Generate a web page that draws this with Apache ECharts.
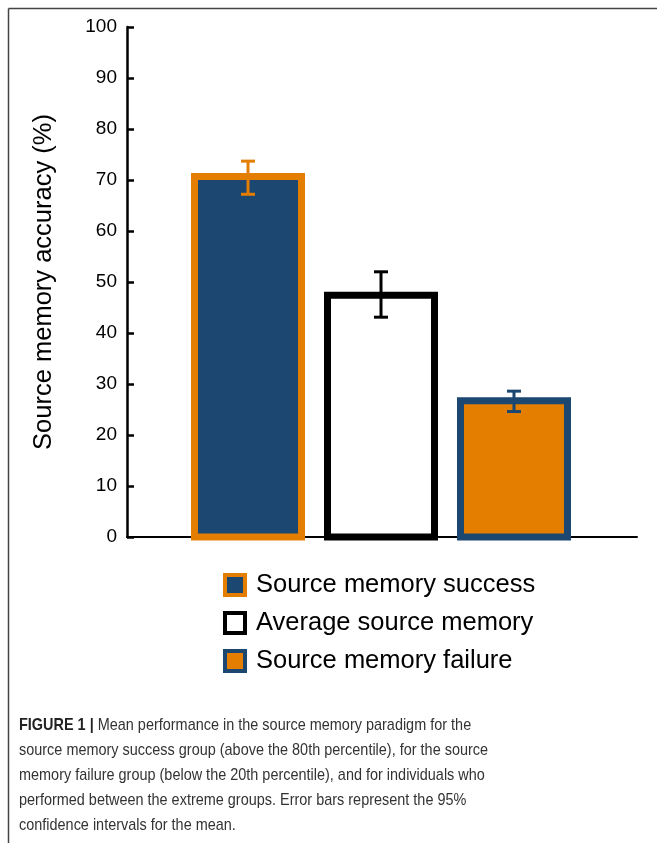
<!DOCTYPE html>
<html>
<head>
<meta charset="utf-8">
<script src="https://cdn.jsdelivr.net/npm/echarts@6/dist/echarts.min.js"></script>
<style>
html,body{margin:0;padding:0;background:#fff;}
#chart{width:657px;height:843px;}
</style>
</head>
<body>
<div id="chart"></div>
<script>
// ---- data ----
var groups = ['Source memory success', 'Average source memory', 'Source memory failure'];
var positions = [1, 2, 3];
var means = [70.7, 47.4, 26.7];
var ciLow = [67.2, 43.1, 24.6];
var ciHigh = [73.7, 52.0, 28.6];
var yTicks = [0, 10, 20, 30, 40, 50, 60, 70, 80, 90, 100];

// ---- styles ----
var NAVY = '#1c4770';
var ORANGE = '#e37e00';
var fills = [NAVY, '#ffffff', ORANGE];
var borders = [ORANGE, '#000000', NAVY];
var errColors = [ORANGE, '#000000', NAVY];
var BAR_HALF = 53.5;

var chart = echarts.init(document.getElementById('chart'));

var series = groups.map(function (g, i) {
  return {
    name: g,
    type: 'custom',
    z: 3,
    itemStyle: { color: fills[i], borderColor: borders[i] },
    data: [[positions[i], means[i]]],
    renderItem: function (params, api) {
      var top = api.coord([api.value(0), api.value(1)]);
      var base = api.coord([api.value(0), 0]);
      return {
        type: 'rect',
        shape: { x: top[0] - BAR_HALF, y: top[1], width: BAR_HALF * 2, height: base[1] - top[1] },
        style: { fill: fills[i], stroke: borders[i], lineWidth: 7 }
      };
    }
  };
});

series.push({
  type: 'custom',
  name: 'ci',
  z: 5,
  data: positions.map(function (p, i) { return [p, ciLow[i], ciHigh[i], i]; }),
  renderItem: function (params, api) {
    var x = api.value(0);
    var lo = api.coord([x, api.value(1)]);
    var hi = api.coord([x, api.value(2)]);
    var c = errColors[api.value(3)];
    var hw = 7;
    var st = { stroke: c, lineWidth: 3 };
    return {
      type: 'group',
      children: [
        { type: 'line', shape: { x1: lo[0], y1: lo[1], x2: hi[0], y2: hi[1] }, style: st },
        { type: 'line', shape: { x1: lo[0] - hw, y1: lo[1], x2: lo[0] + hw, y2: lo[1] }, style: st },
        { type: 'line', shape: { x1: hi[0] - hw, y1: hi[1], x2: hi[0] + hw, y2: hi[1] }, style: st }
      ]
    };
  }
});

var option = {
  animation: false,
  backgroundColor: '#ffffff',
  textStyle: { fontFamily: 'Liberation Sans, Arial, sans-serif' },
  grid: { left: 127, right: 20, top: 27, bottom: 306 },
  xAxis: {
    type: 'value',
    min: 0.09,
    max: 3.925,
    axisLine: { show: true, onZero: true, lineStyle: { color: '#000', width: 2 } },
    axisTick: { show: false },
    axisLabel: { show: false },
    splitLine: { show: false }
  },
  yAxis: {
    type: 'value',
    min: yTicks[0],
    max: yTicks[yTicks.length - 1],
    interval: 10,
    name: 'Source memory accuracy (%)',
    nameLocation: 'middle',
    nameGap: 70,
    nameTextStyle: { fontSize: 25.5, color: '#000', fontFamily: 'Liberation Sans, Arial, sans-serif' },
    axisLine: { show: true, lineStyle: { color: '#000', width: 2.5 } },
    axisTick: { show: true, inside: true, length: 7, lineStyle: { color: '#000', width: 2.5 } },
    axisLabel: { fontSize: 19, color: '#000', margin: 10 },
    splitLine: { show: false }
  },
  legend: {
    orient: 'vertical',
    left: 223,
    top: 572,
    padding: 0,
    itemWidth: 20,
    itemHeight: 20,
    itemGap: 12,
    icon: 'rect',
    textStyle: { fontSize: 25.5, color: '#000', padding: [0, 0, 0, 6] },
    itemStyle: { borderWidth: 4 },
    data: groups.map(function (g, i) {
      return { name: g, itemStyle: { color: fills[i], borderColor: borders[i], borderWidth: 4 } };
    })
  },
  graphic: [
    { type: 'line', shape: { x1: 8.5, y1: 8.5, x2: 657, y2: 8.5 }, style: { stroke: '#444', lineWidth: 1.5 } },
    { type: 'line', shape: { x1: 8.5, y1: 8.5, x2: 8.5, y2: 843 }, style: { stroke: '#444', lineWidth: 1.5 } },
    {
      type: 'text',
      x: 19,
      y: 713,
      scaleX: 0.85,
      style: {
        text: '{b|FIGURE 1 |} Mean performance in the source memory paradigm for the\n' +
              'source memory success group (above the 80th percentile), for the source\n' +
              'memory failure group (below the 20th percentile), and for individuals who\n' +
              'performed between the extreme groups. Error bars represent the 95%\n' +
              'confidence intervals for the mean.',
        fontSize: 17,
        lineHeight: 25,
        fill: '#333',
        fontFamily: 'Liberation Sans, Arial, sans-serif',
        rich: {
          b: { fontWeight: 'bold', fontSize: 17, fill: '#222', fontFamily: 'Liberation Sans, Arial, sans-serif' }
        }
      }
    }
  ],
  series: series
};

chart.setOption(option);
</script>
</body>
</html>
